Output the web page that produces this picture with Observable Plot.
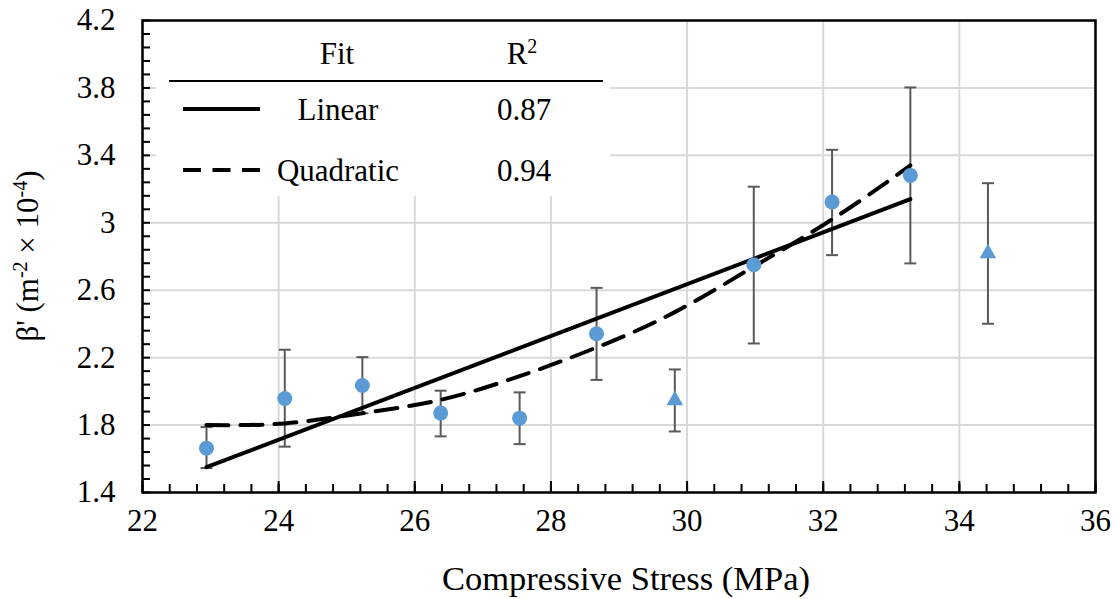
<!DOCTYPE html>
<html>
<head>
<meta charset="utf-8">
<script src="https://cdn.jsdelivr.net/npm/d3@7"></script>
<script src="https://cdn.jsdelivr.net/npm/@observablehq/plot@0.6"></script>
<style>
  html, body { margin: 0; padding: 0; background: white; }
  #chart svg { display: block; }
  #chart svg, #chart svg text, #chart svg tspan { font-family: "Liberation Serif", "Times New Roman", serif !important; }
</style>
</head>
<body>
<div id="chart"></div>
<script>
// ---- data ----
const stress = [22.94, 24.09, 25.23, 26.38, 27.54, 28.67, 29.82, 30.98, 32.13, 33.28, 34.42];
const beta   = [1.663, 1.958, 2.035, 1.871, 1.841, 2.342, 1.946, 2.751, 3.123, 3.281, 2.818];
const betaLo = [1.545, 1.672, 1.870, 1.733, 1.687, 2.068, 1.762, 2.284, 2.808, 2.759, 2.401];
const betaHi = [1.788, 2.247, 2.203, 2.004, 1.994, 2.614, 2.130, 3.214, 3.433, 3.803, 3.235];
const shape  = ["circle","circle","circle","circle","circle","circle","triangle","circle","circle","circle","triangle"];

const linearX = [22.94, 33.28];
const linearY = [1.55, 3.14];

const quadX = [22.94, 24.09, 25.23, 26.38, 27.54, 28.67, 29.82, 30.98, 32.13, 33.28];
const quadY = [1.80, 1.81, 1.87, 1.95, 2.09, 2.26, 2.47, 2.74, 3.02, 3.34];

const xTicks = [22, 24, 26, 28, 30, 32, 34, 36];
const xTickLabels = ["22", "24", "26", "28", "30", "32", "34", "36"];
const yTicks = [1.4, 1.8, 2.2, 2.6, 3, 3.4, 3.8, 4.2];
const yTickLabels = ["1.4", "1.8", "2.2", "2.6", "3", "3.4", "3.8", "4.2"];

const legendFits = ["Linear", "Quadratic"];
const legendR2 = ["0.87", "0.94"];

// ---- derived tables ----
const points = stress.map((x, i) => ({x, y: beta[i], lo: betaLo[i], hi: betaHi[i], shape: shape[i]}));
const linear = linearX.map((x, i) => ({x, y: linearY[i]}));
const quad = quadX.map((x, i) => ({x, y: quadY[i]}));
const xMinor = d3.range(22, 36.0001, 0.4);
const yMinor = d3.range(1.4, 4.2001, 0.08);

const W = 1119, H = 599;
const mL = 142, mR = 24, mT = 20, mB = 107;
const innerW = W - mL - mR, innerH = H - mT - mB;

const capSymbol = { draw(ctx) { ctx.moveTo(-6, 0); ctx.lineTo(6, 0); } };
const markerColor = "#5B9BD5";
const errColor = "#595959";
const font = "Liberation Serif, serif";

const chart = Plot.plot({
  width: W, height: H,
  marginLeft: mL, marginRight: mR, marginTop: mT, marginBottom: mB,
  style: {fontFamily: font, fontSize: "30px", color: "black", background: "white"},
  x: {domain: [22, 36]},
  y: {domain: [1.4, 4.2]},
  marks: [
    Plot.gridX(xTicks, {stroke: "#d9d9d9", strokeOpacity: 1, strokeWidth: 2}),
    Plot.gridY(yTicks, {stroke: "#d9d9d9", strokeOpacity: 1, strokeWidth: 2}),
    Plot.tickX(xMinor, {x: d => d, insetTop: innerH - 8, stroke: "black", strokeWidth: 2}),
    Plot.tickX(xTicks, {x: d => d, insetTop: innerH - 11, stroke: "black", strokeWidth: 2}),
    Plot.tickY(yMinor, {y: d => d, insetRight: innerW - 8, stroke: "black", strokeWidth: 2}),
    Plot.frame({stroke: "black", strokeWidth: 2.5}),
    Plot.axisX(xTicks, {tickSize: 0, tickPadding: 16, label: null, tickFormat: (d, i) => xTickLabels[i], fontSize: 31}),
    Plot.axisY(yTicks, {tickSize: 0, tickPadding: 27, label: null, tickFormat: (d, i) => yTickLabels[i], fontSize: 31}),
    // error bars
    Plot.ruleX(points, {x: "x", y1: "lo", y2: "hi", stroke: errColor, strokeWidth: 2}),
    Plot.dot(points, {x: "x", y: "hi", symbol: capSymbol, stroke: errColor, strokeWidth: 2, fill: "none", r: 6}),
    Plot.dot(points, {x: "x", y: "lo", symbol: capSymbol, stroke: errColor, strokeWidth: 2, fill: "none", r: 6}),
    // fits
    Plot.line(linear, {x: "x", y: "y", stroke: "black", strokeWidth: 4}),
    Plot.line(quad, {x: "x", y: "y", stroke: "black", strokeWidth: 4, strokeDasharray: "22,12", curve: "natural"}),
    // points
    Plot.dot(points.filter(d => d.shape === "circle"), {x: "x", y: "y", r: 7.5, fill: markerColor, stroke: "none"}),
    Plot.dot(points.filter(d => d.shape === "triangle"), {x: "x", y: "y", r: 6.2, symbol: "triangle", fill: markerColor, stroke: "none"})
  ]
});

document.getElementById("chart").appendChild(chart);

// ---- axis titles and legend ----
const svg = d3.select(chart);

svg.append("text")
  .attr("x", 626).attr("y", 590)
  .attr("text-anchor", "middle").attr("font-size", 34.5).attr("fill", "black")
  .text("Compressive Stress (MPa)");

const yl = svg.append("text")
  .attr("transform", `translate(38,${mT + innerH / 2}) rotate(-90)`)
  .attr("text-anchor", "middle").attr("font-size", 31).attr("fill", "black");
yl.append("tspan").text("β' (m");
yl.append("tspan").attr("baseline-shift", "super").attr("font-size", 20).text("-2");
yl.append("tspan").text(" × 10");
yl.append("tspan").attr("baseline-shift", "super").attr("font-size", 20).text("-4");
yl.append("tspan").text(")");

const lg = svg.append("g").attr("font-size", 31).attr("fill", "black");
lg.append("rect").attr("x", 156).attr("y", 22).attr("width", 454).attr("height", 174).attr("fill", "white");
lg.append("text").attr("x", 337).attr("y", 64).attr("text-anchor", "middle").text("Fit");
const r2 = lg.append("text").attr("x", 522).attr("y", 64).attr("text-anchor", "middle");
r2.append("tspan").text("R");
r2.append("tspan").attr("baseline-shift", "super").attr("font-size", 20).text("2");
lg.append("line").attr("x1", 169).attr("x2", 603).attr("y1", 81).attr("y2", 81).attr("stroke", "black").attr("stroke-width", 2);
const rowY = [109, 170];
legendFits.forEach((name, i) => {
  lg.append("line").attr("x1", 183).attr("x2", 260).attr("y1", rowY[i]).attr("y2", rowY[i])
    .attr("stroke", "black").attr("stroke-width", 4)
    .attr("stroke-dasharray", i === 1 ? "18,11.5" : null);
  lg.append("text").attr("x", 338).attr("y", rowY[i] + 11).attr("text-anchor", "middle").text(name);
  lg.append("text").attr("x", 524).attr("y", rowY[i] + 11).attr("text-anchor", "middle").text(legendR2[i]);
});
</script>
</body>
</html>
